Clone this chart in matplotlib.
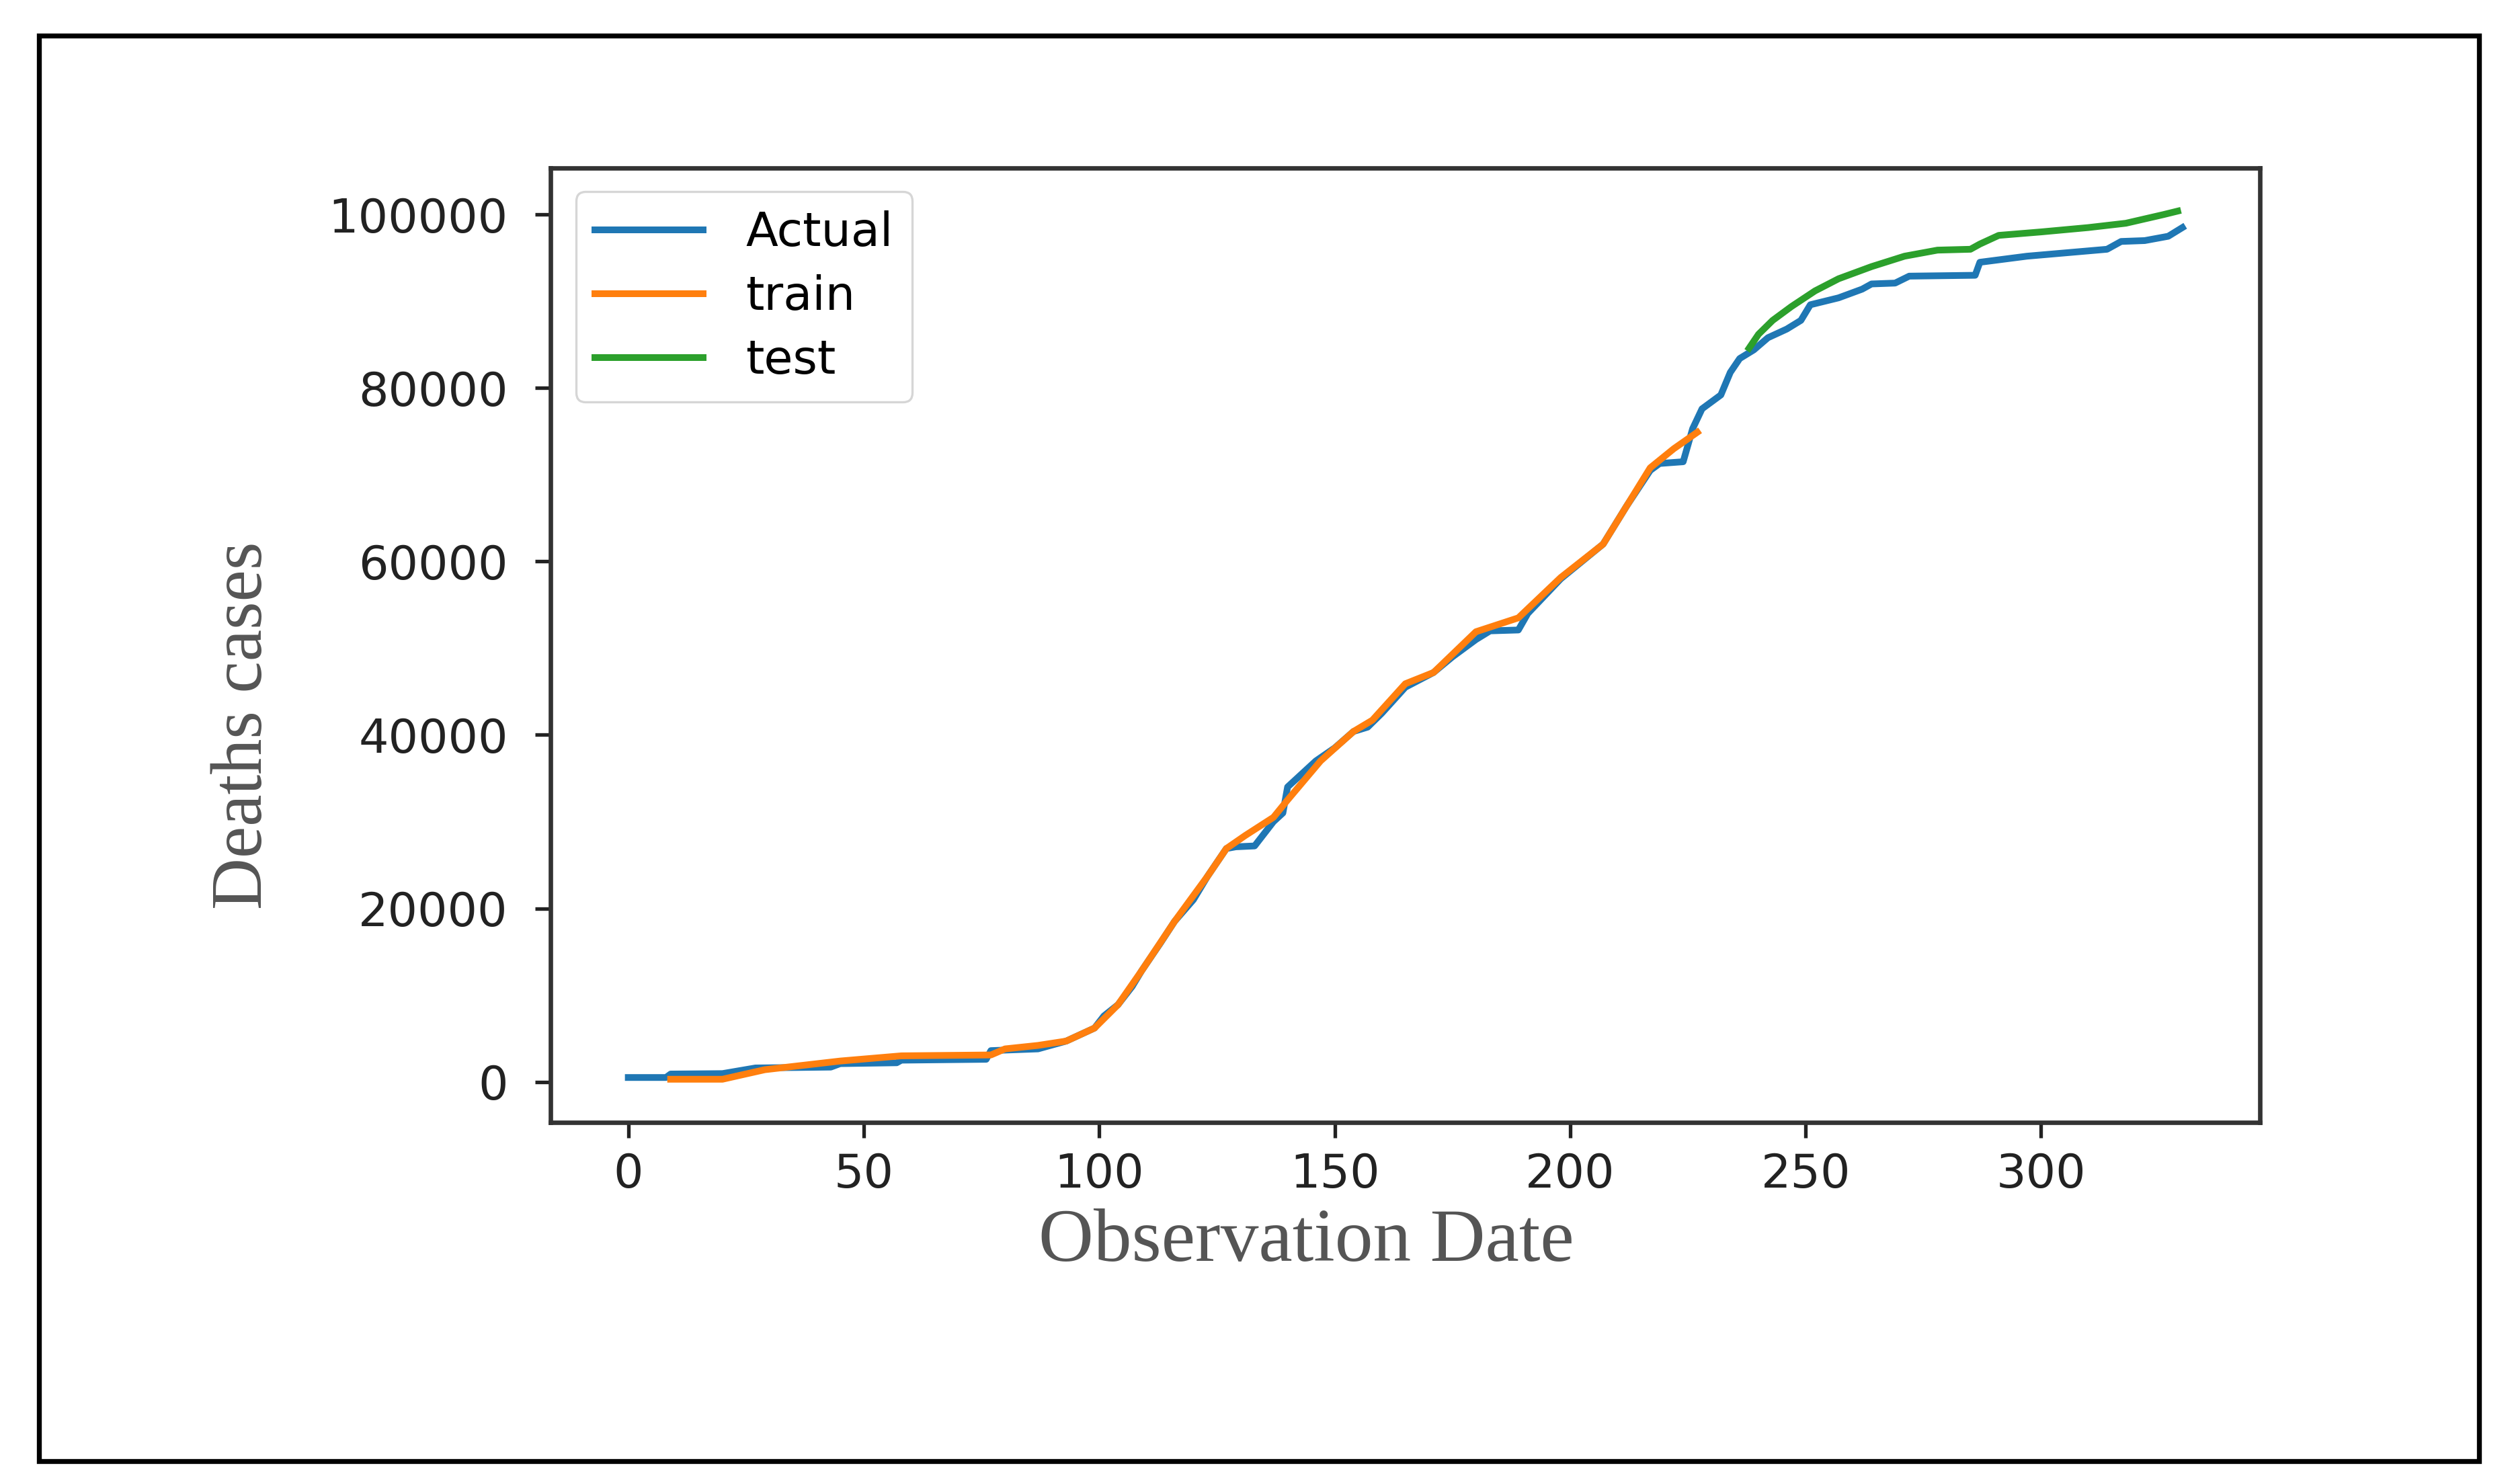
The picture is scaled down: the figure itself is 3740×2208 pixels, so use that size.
import matplotlib.pyplot as plt
import matplotlib.patches as mpatches

# values
actual_days = [0, 8, 9, 20, 27, 43, 45, 57, 58, 76, 77, 87, 93, 99, 101, 104, 107, 109,
               113, 116, 120, 123, 127, 129, 133, 137, 139, 140, 146, 150, 154, 157, 160,
               165, 171, 175, 180, 183, 189, 191, 198, 207, 212, 217, 219, 224, 226, 228,
               232, 234, 236, 239, 242, 246, 249, 251, 257, 262, 264, 269, 272, 286, 287,
               297, 314, 317, 322, 327, 330]
actual_vals = [500, 500, 900, 950, 1600, 1700, 2100, 2200, 2500, 2600, 3600, 3800, 4700,
               6200, 7600, 8900, 11000, 12800, 16000, 18500, 21000, 23700, 26900, 27100,
               27200, 30000, 31000, 34000, 37000, 38500, 40400, 40900, 42500, 45500, 47200,
               49000, 51000, 52000, 52100, 54000, 58000, 62000, 66400, 70500, 71300, 71500,
               75300, 77600, 79200, 81800, 83400, 84400, 85800, 86800, 87800, 89600, 90400,
               91400, 92000, 92100, 92900, 93000, 94500, 95200, 96000, 96900, 97000, 97500,
               98500]

train_days = [9, 20, 29, 45, 58, 77, 80, 87, 93, 99, 104, 109, 116, 123, 127, 131, 137,
              140, 147, 154, 158, 165, 171, 180, 189, 198, 207, 212, 217, 222, 227]
train_vals = [300, 300, 1400, 2400, 3000, 3100, 3800, 4200, 4700, 6200, 8900, 12800, 18500,
              23700, 26900, 28400, 30500, 32500, 37000, 40400, 41700, 45900, 47200, 51900,
              53500, 58150, 62000, 66400, 70800, 73000, 74900]

test_days = [238, 240, 243, 247, 252, 257, 264, 271, 278, 285, 287, 291, 300, 310, 318,
             322, 326, 329]
test_vals = [84600, 86200, 87800, 89400, 91200, 92600, 94000, 95200, 95900, 96000, 96600,
             97600, 98000, 98500, 99000, 99500, 100000, 100400]

fig = plt.figure(figsize=(3740 / 240, 2208 / 240), dpi=240)
ax = fig.add_axes([0.219, 0.2435, 0.680, 0.6435])

ax.plot(actual_days, actual_vals, color='C0', lw=3, label='Actual')
ax.plot(train_days, train_vals, color='C1', lw=3, label='train')
ax.plot(test_days, test_vals, color='C2', lw=3, label='test')

ax.set_xticks(range(0, 301, 50))
ax.set_yticks(range(0, 100001, 20000))
ax.tick_params(labelsize=21, length=7, width=1.6, colors='#222222')
ax.tick_params(axis='x', pad=6)
ax.tick_params(axis='y', pad=12)
for s in ax.spines.values():
    s.set_linewidth(2)
    s.set_color('#333333')

ax.set_xlabel('Observation Date', family='Liberation Serif', fontsize=34, color='#555555')
ax.set_ylabel('Deaths cases', family='Liberation Serif', fontsize=32, color='#555555')
ax.xaxis.set_label_coords(0.442, -0.09)
ax.yaxis.set_label_coords(-0.16, 0.416)

leg = ax.legend(loc='upper left', bbox_to_anchor=(0.015, 0.975), borderaxespad=0,
                fontsize=21, handlelength=2.3, handletextpad=0.9, labelspacing=0.4,
                borderpad=0.4)

# outer frame round the whole picture
fig.patches.append(mpatches.Rectangle((0.0154, 0.0152), 0.9706, 0.9608, fill=False,
                                      lw=2.2, edgecolor='black', transform=fig.transFigure))

fig.savefig('out.png', dpi=240)
